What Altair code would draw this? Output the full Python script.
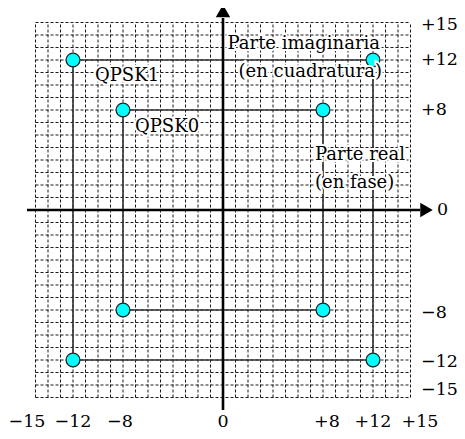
import altair as alt
import pandas as pd

# ---- data ----
grid_values = list(range(-15, 16))          # grid lines every unit
levels = [8, 12]                            # QPSK0 / QPSK1 amplitude
point_x = [-12, 12, -12, 12, -8, 8, -8, 8]
point_y = [12, 12, -12, -12, 8, 8, -8, -8]
tick_values = [-15, -12, -8, 0, 8, 12, 15]
tick_labels = ["\u221215", "\u221212", "\u22128", "0", "+8", "+12", "+15"]
ann_text = ["QPSK1", "QPSK0", "Parte imaginaria", "(en cuadratura)", "Parte real", "(en fase)"]
ann_x = [-10.24, -7.04, 12.56, 12.72, 7.36, 7.36]
ann_y = [10.72, 6.64, 13.28, 11.04, 4.4, 2.16]
ann_side = ["left", "left", "right", "right", "left", "left"]

W, H = 449, 423
XD = [-17.2, 18.72]
YD = [-17.68, 16.16]
FONT = "DejaVu Serif"

xsc = alt.Scale(domain=XD, nice=False, zero=False)
ysc = alt.Scale(domain=YD, nice=False, zero=False)


def X(f):
    return alt.X(f, type="quantitative", scale=xsc, axis=None)


def Y(f):
    return alt.Y(f, type="quantitative", scale=ysc, axis=None)


gmin, gmax = min(grid_values), max(grid_values)
df_grid = pd.DataFrame({"v": grid_values, "lo": gmin, "hi": gmax})

grid_v = alt.Chart(df_grid).mark_rule(
    stroke="#000", strokeWidth=0.9, strokeDash=[3, 2]
).encode(x=X("v"), y=Y("lo"), y2="hi")
grid_h = alt.Chart(df_grid).mark_rule(
    stroke="#000", strokeWidth=0.9, strokeDash=[3, 2]
).encode(y=Y("v"), x=X("lo"), x2="hi")

edges = []
for a in levels:
    edges += [(-a, a, a, a), (-a, -a, a, -a), (-a, -a, -a, a), (a, -a, a, a)]
df_edges = pd.DataFrame(edges, columns=["x1", "y1", "x2", "y2"])
squares = alt.Chart(df_edges).mark_rule(stroke="#333", strokeWidth=1.6).encode(
    x=X("x1"), y=Y("y1"), x2="x2", y2="y2"
)

df_axes = pd.DataFrame(
    {"x1": [-15.68, 0], "y1": [0, -16.0], "x2": [15.76, 0], "y2": [0, 15.36]}
)
axes = alt.Chart(df_axes).mark_rule(stroke="#000", strokeWidth=2.6).encode(
    x=X("x1"), y=Y("y1"), x2="x2", y2="y2"
)

df_arrow_r = pd.DataFrame({"x": [16.28], "y": [0]})
df_arrow_u = pd.DataFrame({"x": [0], "y": [15.92]})
arrow_r = alt.Chart(df_arrow_r).mark_point(
    shape="triangle-right", filled=True, color="#000", size=210, opacity=1
).encode(x=X("x"), y=Y("y"))
arrow_u = alt.Chart(df_arrow_u).mark_point(
    shape="triangle-up", filled=True, color="#000", size=210, opacity=1
).encode(x=X("x"), y=Y("y"))

df_pts = pd.DataFrame({"x": point_x, "y": point_y})
points = alt.Chart(df_pts).mark_point(
    shape="circle", filled=True, fill="#00FFFF", stroke="#222",
    strokeWidth=1.3, size=190, opacity=1
).encode(x=X("x"), y=Y("y"))

df_ann = pd.DataFrame({"t": ann_text, "x": ann_x, "y": ann_y, "side": ann_side})


def ann_layer(side, halo):
    kw = dict(align=side, baseline="middle", font=FONT, fontSize=18)
    if halo:
        kw.update(stroke="white", strokeWidth=4, fill="white")
    else:
        kw.update(fill="#000")
    return alt.Chart(df_ann).transform_filter(
        alt.datum.side == side
    ).mark_text(**kw).encode(x=X("x"), y=Y("y"), text="t:N")


anns = [ann_layer("left", True), ann_layer("right", True),
        ann_layer("left", False), ann_layer("right", False)]

df_ticks = pd.DataFrame({"v": tick_values, "lab": tick_labels})
bottom = alt.Chart(df_ticks).transform_calculate(
    px="datum.v + (datum.v == -15 ? -0.68 : datum.v == 15 ? 0.76 : datum.v == -8 ? -0.24 : datum.v == 8 ? 0.32 : 0)",
    py="-17.32",
).mark_text(
    align="center", baseline="alphabetic", font=FONT, fontSize=17.5, color="#000"
).encode(x=X("px"), y=Y("py"), text="lab:N")

right = alt.Chart(df_ticks).transform_calculate(
    px="datum.v == 0 ? 17.12 : 15.84",
    py="datum.v + (datum.v == 15 ? -0.2 : datum.v == -15 ? 0.6 : datum.v == -8 ? -0.2 : datum.v == -12 ? -0.15 : 0)",
).mark_text(
    align="left", baseline="middle", font=FONT, fontSize=17.5, color="#000"
).encode(x=X("px"), y=Y("py"), text="lab:N")

chart = alt.layer(
    grid_v, grid_h, squares, axes, arrow_r, arrow_u, points, *anns, bottom, right
).properties(
    width=W, height=H, padding=0, autosize="none", background="white"
).configure_view(stroke=None)

chart.save("out.html", embed_options={"renderer": "svg", "actions": False})
